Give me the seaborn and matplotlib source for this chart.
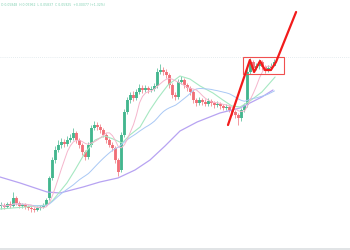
import numpy as np
import pandas as pd
import matplotlib
matplotlib.use("Agg")
import matplotlib.pyplot as plt
import seaborn as sns

sns.set_theme(style="white")
plt.rcParams['font.family'] = ['DejaVu Sans']

# ---- candle data (price units) ----
opens = [44,45,43,46,44,52,47,44,45,43,42,41,40,42,43,45,52,72,90,100,105,108,106,110,112,117,110,105,98,93,105,122,125,123,120,115,110,105,102,90,80,115,138,150,155,152,158,162,160,162,160,161,164,178,180,178,175,165,155,153,168,170,165,162,158,150,147,150,148,146,149,147,145,146,144,142,143,140,138,135,132,140,145,178,188,182,184,188,183,180,182,184]
highs = [48,47,48,49,58,54,49,47,47,45,44,43,44,45,47,52,74,93,104,110,112,111,114,116,122,119,112,107,100,108,125,129,128,126,122,117,112,108,104,92,118,141,153,158,159,161,166,165,165,164,164,167,182,186,183,181,177,167,158,171,174,172,167,164,160,152,153,152,151,152,151,149,149,148,146,146,145,142,140,137,142,147,181,192,190,187,191,190,185,185,187,191]
lows = [41,41,42,42,43,45,42,42,41,40,38,38,39,40,42,44,50,70,87,98,102,103,104,108,110,107,102,95,90,91,103,120,120,117,113,107,103,99,87,74,78,113,136,147,149,150,156,157,158,157,158,159,162,176,175,172,162,152,150,151,166,162,159,155,147,144,145,145,144,144,144,142,143,141,140,140,138,135,132,125,129,138,143,176,179,180,181,180,177,178,180,186]
closes = [45,43,46,44,52,47,44,45,43,42,41,40,42,43,45,50,72,90,100,105,108,106,110,112,117,110,105,98,93,105,122,125,123,120,115,110,105,102,90,78,115,138,150,155,152,158,162,160,162,160,161,164,178,180,178,175,165,155,153,168,170,165,162,158,150,147,150,148,146,149,147,145,146,144,142,143,140,138,135,132,140,145,178,188,182,184,188,183,180,182,184,188]

# ---- slow moving averages (bar index, price) ----
ma_green_idx = [-0.5, 7.8, 15.2, 17.2, 21.8, 24.5, 27.8, 31.2, 34.5, 37.2, 40.2, 42.8, 46.2, 49.5, 52.2, 55.5, 59.5, 62.8, 66.2, 70.5, 73.8, 76.8, 79.5, 82.8, 86.8, 91.2]
ma_green_val = [41, 43, 45, 50, 67, 80, 97, 110, 114, 111, 107, 115, 123, 140, 152, 165, 174, 171, 164, 157, 150, 144, 143, 149, 158, 173]
ma_purple_idx = [-0.5, 6.2, 15.2, 19.5, 27.2, 32.8, 38.8, 44.5, 49.5, 54.5, 59.5, 65.2, 72.8, 79.5, 82.8, 86.8, 90.5]
ma_purple_val = [73, 67, 58, 57, 63, 68, 72, 80, 90, 104, 119, 128, 137, 142, 147, 153, 160]

# ---- hand-drawn annotation ----
arrow_idx = [75.5, 82.8, 84.2, 86.2, 87.8, 89.8, 91.5, 98.2]
arrow_val = [125, 190, 178, 189, 180, 180, 188, 238]
box_idx = [80.5, 94.2]
box_val = [176, 193]
price_line = 193

n = len(closes)
df = pd.DataFrame({"idx": np.arange(n), "open": opens, "high": highs,
                   "low": lows, "close": closes})
df["ma7"] = df["close"].rolling(7, min_periods=1).mean()
df["ma25"] = df["close"].rolling(25, min_periods=1).mean()
df["up"] = df["close"] >= df["open"]

fig = plt.figure(figsize=(3.5, 2.5), dpi=100)
ax = fig.add_axes([0, 0, 1, 1])
ax.set_xlim(-0.5, 116.17)
ax.set_ylim(0, 250)
ax.axis("off")

GREEN = "#3db48b"
RED = "#f06a73"
colors = np.where(df["up"], GREEN, RED)

ax.axhline(price_line, color="#dde6ea", lw=0.6, ls=(0, (1, 1.5)), zorder=1)
ax.axhline(1.5, color="#dcdfe2", lw=1.2, zorder=1)

ax.vlines(df["idx"], df["low"], df["high"], colors=colors, lw=0.6, alpha=0.8, zorder=2)
bottoms = np.minimum(df["open"], df["close"])
heights = np.maximum(np.abs(df["close"] - df["open"]), 0.9)
ax.bar(df["idx"], heights, bottom=bottoms, width=0.7, color=colors, alpha=0.9,
       linewidth=0, zorder=3)

sns.lineplot(x=ma_purple_idx, y=ma_purple_val, ax=ax, color="#b7a3f2", lw=0.9, zorder=4)
sns.lineplot(x=ma_green_idx, y=ma_green_val, ax=ax, color="#a6e8c2", lw=0.8, zorder=4)
sns.lineplot(data=df, x="idx", y="ma25", ax=ax, color="#a9c8f5", lw=0.7, zorder=4)
sns.lineplot(data=df, x="idx", y="ma7", ax=ax, color="#f5b5cc", lw=0.7, zorder=4)

sns.lineplot(x=arrow_idx, y=arrow_val, ax=ax, color="#f21b1b", lw=1.6, sort=False, zorder=6)
ax.add_patch(plt.Rectangle((box_idx[0], box_val[0]), box_idx[1] - box_idx[0],
                           box_val[1] - box_val[0], fill=False, ec="#f05050", lw=0.8, zorder=5))

ax.text(0.0, 245.5, "O 0.05848  H 0.05962  L 0.05837  C 0.05925  +0.00077 (+1.32%)",
        fontsize=2.25, color="#7fcfb0", va="center", ha="left")

fig.savefig("out.png", dpi=100, facecolor="white")
